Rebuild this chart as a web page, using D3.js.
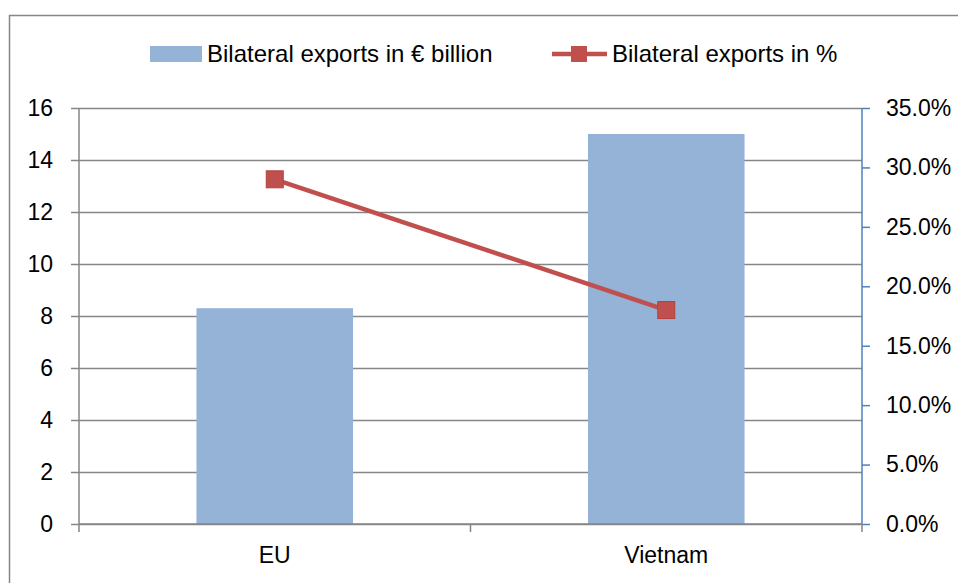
<!DOCTYPE html>
<html lang="en">
<head>
    <meta charset="UTF-8">
    <title>Bilateral exports</title>
    <script src="https://d3js.org/d3.v7.min.js"></script>
    <style>
        body {
            margin: 0;
            background-color: #ffffff;
            font-family: "Liberation Sans", "DejaVu Sans", sans-serif;
        }
        svg {
            display: block;
        }
        .tick text {
            font-size: 23px;
            fill: #000;
        }
    </style>
</head>
<body>
<svg width="958" height="583"></svg>

<script>
    // Data
    const categories = ["EU", "Vietnam"];
    const exportsBillion = [8.3, 15.0];
    const exportsPercent = [0.29, 0.18];
    const leftTicks = [0, 2, 4, 6, 8, 10, 12, 14, 16];
    const rightTicks = [0, 0.05, 0.10, 0.15, 0.20, 0.25, 0.30, 0.35];

    const svgWidth = 958;
    const svgHeight = 583;
    const margin = {top: 108, right: 96, bottom: 59, left: 79};
    const width = svgWidth - margin.left - margin.right;
    const height = svgHeight - margin.top - margin.bottom;

    const barColor = "#95b3d7";
    const lineColor = "#c0504d";
    const gridColor = "#868686";

    const svg = d3.select("svg");

    // outer chart border
    svg.append("rect")
        .attr("x", 9.5)
        .attr("y", 15.5)
        .attr("width", svgWidth)
        .attr("height", svgHeight)
        .attr("fill", "none")
        .attr("stroke", gridColor)
        .attr("stroke-width", 1.5);

    const g = svg.append("g")
        .attr("transform", `translate(${margin.left}, ${margin.top})`);

    // scales
    const xScale = d3.scaleBand()
        .domain(categories)
        .range([0, width])
        .paddingInner(0)
        .paddingOuter(0);

    const yLeft = d3.scaleLinear()
        .domain([0, 16])
        .range([height, 0]);

    const yRight = d3.scaleLinear()
        .domain([0, 0.35])
        .range([height, 0]);

    // gridlines
    g.append("g")
        .selectAll("line")
        .data(leftTicks)
        .enter()
        .append("line")
        .attr("x1", 0)
        .attr("x2", width)
        .attr("y1", d => Math.round(yLeft(d)) + 0.5)
        .attr("y2", d => Math.round(yLeft(d)) + 0.5)
        .attr("stroke", gridColor)
        .attr("stroke-width", 1.5);

    // bars
    const barWidth = xScale.bandwidth() * 0.4;
    g.selectAll(".bar")
        .data(exportsBillion)
        .enter()
        .append("rect")
        .attr("class", "bar")
        .attr("x", (d, i) => xScale(categories[i]) + (xScale.bandwidth() - barWidth) / 2)
        .attr("y", d => yLeft(d))
        .attr("width", barWidth)
        .attr("height", d => height - yLeft(d))
        .attr("fill", barColor);

    // left axis
    const leftAxis = g.append("g")
        .call(d3.axisLeft(yLeft).tickValues(leftTicks).tickSize(8).tickPadding(18));
    leftAxis.select(".domain").attr("stroke", gridColor).attr("stroke-width", 1.5).attr("d", `M0,0V${height}`);
    leftAxis.selectAll(".tick line").attr("stroke", gridColor).attr("stroke-width", 1.5);

    // right axis
    const rightAxis = g.append("g")
        .attr("transform", `translate(${width}, 0)`)
        .call(d3.axisRight(yRight).tickValues(rightTicks).tickSize(8).tickPadding(16)
            .tickFormat(d3.format(".1%")));
    rightAxis.select(".domain").attr("stroke", "#4f81bd").attr("stroke-width", 1.5).attr("d", `M0,0V${height}`);
    rightAxis.selectAll(".tick line").attr("stroke", "#4f81bd").attr("stroke-width", 1.5);

    // x axis
    const xAxis = g.append("g")
        .attr("transform", `translate(0, ${height})`)
        .call(d3.axisBottom(xScale).tickSize(0).tickPadding(23));
    xAxis.select(".domain").attr("stroke", gridColor).attr("stroke-width", 1.5).attr("d", `M0,0H${width}`);
    // category boundary ticks
    xAxis.selectAll(".boundary")
        .data([0, 1, 2])
        .enter()
        .append("line")
        .attr("x1", i => i * xScale.bandwidth())
        .attr("x2", i => i * xScale.bandwidth())
        .attr("y1", 0)
        .attr("y2", 8)
        .attr("stroke", gridColor)
        .attr("stroke-width", 1.5);

    // line series
    const line = d3.line()
        .x((d, i) => xScale(categories[i]) + xScale.bandwidth() / 2)
        .y(d => yRight(d));

    g.append("path")
        .datum(exportsPercent)
        .attr("d", line)
        .attr("fill", "none")
        .attr("stroke", lineColor)
        .attr("stroke-width", 4.5);

    const markerSize = 17;
    g.selectAll(".marker")
        .data(exportsPercent)
        .enter()
        .append("rect")
        .attr("class", "marker")
        .attr("x", (d, i) => xScale(categories[i]) + xScale.bandwidth() / 2 - markerSize / 2)
        .attr("y", d => yRight(d) - markerSize / 2)
        .attr("width", markerSize)
        .attr("height", markerSize)
        .attr("fill", lineColor)
        .attr("stroke", "#b3413e")
        .attr("stroke-width", 1);

    // legend
    const legend = svg.append("g").style("font-size", "24px");
    legend.append("rect")
        .attr("x", 150).attr("y", 46)
        .attr("width", 52).attr("height", 16)
        .attr("fill", barColor);
    legend.append("text")
        .attr("x", 207).attr("y", 62)
        .text("Bilateral exports in € billion");
    legend.append("line")
        .attr("x1", 552).attr("x2", 607)
        .attr("y1", 54).attr("y2", 54)
        .attr("stroke", lineColor)
        .attr("stroke-width", 4.5);
    legend.append("rect")
        .attr("x", 571).attr("y", 46)
        .attr("width", 16).attr("height", 16)
        .attr("fill", lineColor);
    legend.append("text")
        .attr("x", 612).attr("y", 62)
        .text("Bilateral exports in %");
</script>
</body>
</html>
